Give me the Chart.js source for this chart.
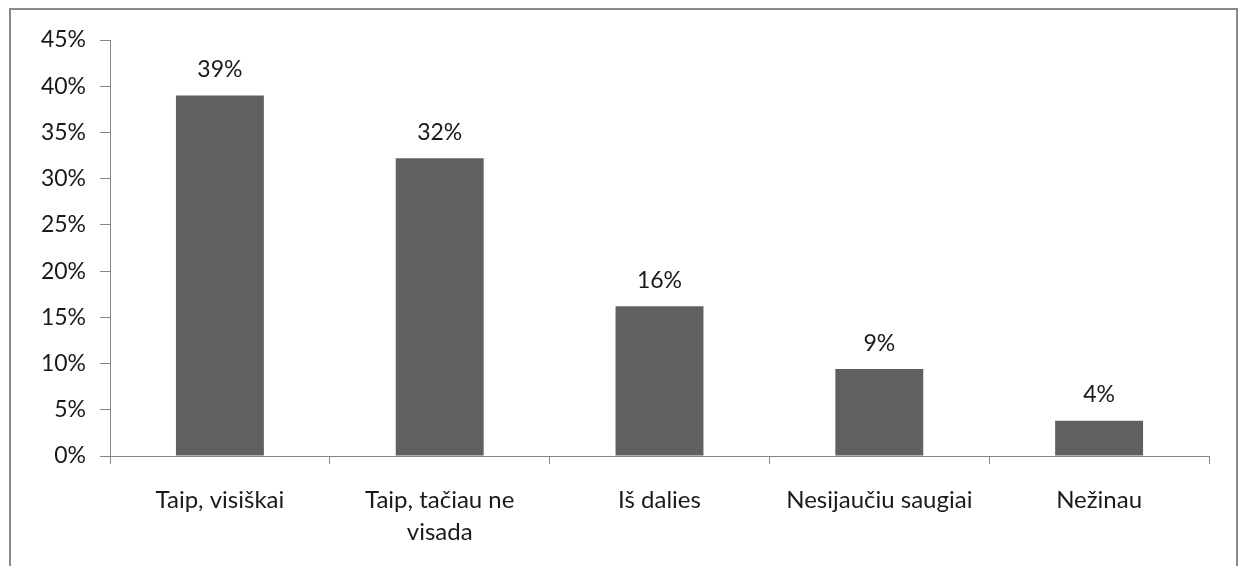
<!DOCTYPE html>
<html>
<head>
<meta charset="utf-8">
<script src="https://cdn.jsdelivr.net/npm/chart.js@4"></script>
<style>
  html, body { margin: 0; padding: 0; background: #fff; }
  #wrap { width: 1240px; height: 566px; }
</style>
</head>
<body>
<div id="wrap"><canvas id="chart-canvas" width="1240" height="566"></canvas></div>
<script>
const categories = ['Taip, visiškai', ['Taip, tačiau ne', 'visada'], 'Iš dalies', 'Nesijaučiu saugiai', 'Nežinau'];
const values = [39.0, 32.2, 16.2, 9.4, 3.8];
const yTicks = { min: 0, max: 45, step: 5 };

const axisColor = '#868686';
const textColor = '#1a1a1a';
const fontFamily = 'Lato, "Open Sans", sans-serif';

// frame around the whole figure
const frame = {
    id: 'frame',
    beforeDraw(chart) {
        const ctx = chart.ctx;
        ctx.save();
        ctx.fillStyle = '#fff';
        ctx.fillRect(0, 0, chart.width, chart.height);
        ctx.strokeStyle = '#8a8a8a';
        ctx.lineWidth = 2;
        ctx.strokeRect(10, 9, 1227, 620);
        ctx.restore();
    }
};

// value labels above the bars
const barLabels = {
    id: 'barLabels',
    afterDatasetsDraw(chart) {
        const ctx = chart.ctx;
        const meta = chart.getDatasetMeta(0);
        ctx.save();
        ctx.font = '23px ' + fontFamily;
        ctx.fillStyle = textColor;
        ctx.textAlign = 'center';
        ctx.textBaseline = 'middle';
        meta.data.forEach((bar, i) => {
            ctx.fillText(Math.round(values[i]) + '%', bar.x, bar.y - 26);
        });
        ctx.restore();
    }
};

const ctx = document.getElementById('chart-canvas').getContext('2d');
new Chart(ctx, {
    type: 'bar',
    data: {
        labels: categories,
        datasets: [{
            data: values,
            backgroundColor: '#606060',
            borderWidth: 0,
            barPercentage: 0.4,
            categoryPercentage: 1.0
        }]
    },
    options: {
        responsive: false,
        animation: false,
        layout: { padding: { top: 40, right: 31, left: 10, bottom: 0 } },
        plugins: {
            legend: { display: false },
            tooltip: { enabled: false }
        },
        scales: {
            x: {
                afterFit: s => { s.height = 110; },
                grid: {
                    offset: true,
                    drawOnChartArea: false,
                    color: axisColor,
                    tickLength: 8
                },
                border: { color: axisColor, width: 1 },
                ticks: {
                    color: textColor,
                    font: { family: fontFamily, size: 24, lineHeight: 1.33 },
                    padding: 20,
                    maxRotation: 0
                }
            },
            y: {
                min: yTicks.min,
                max: yTicks.max,
                afterFit: s => { s.width = 100; },
                grid: {
                    drawOnChartArea: false,
                    color: axisColor,
                    tickLength: 10
                },
                border: { color: axisColor, width: 1 },
                ticks: {
                    stepSize: yTicks.step,
                    color: textColor,
                    font: { family: fontFamily, size: 23 },
                    padding: 14,
                    callback: v => v + '%'
                }
            }
        }
    },
    plugins: [frame, barLabels]
});
</script>
</body>
</html>
